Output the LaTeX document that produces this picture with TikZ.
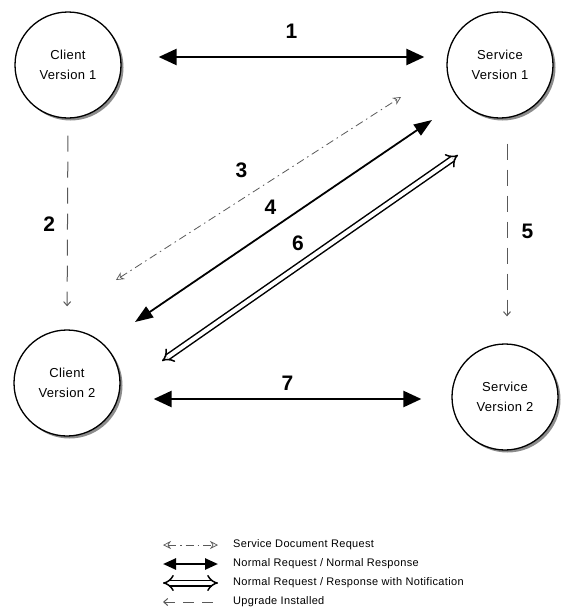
\documentclass[tikz,border=0pt]{standalone}
\usepackage{fontspec}
\setmainfont{Liberation Sans}[LetterSpace=3.0]
\usetikzlibrary{
    arrows.meta,
    shadows
}
\tikzset{
    % Colors
    line gray/.style={black!65},
    %
    % Nodes
    party/.style={circle,draw,line width=1.3pt,fill=white,minimum size=106pt,inner sep=0pt,
        align=center,font=\fontsize{13}{20}\selectfont,
        drop shadow={shadow xshift=2.5pt,shadow yshift=-2.5pt,fill=black!45,opacity=1}},
    step label/.style={inner sep=0pt,text=black,font=\fontsize{21}{21}\bfseries\selectfont},
    legend text/.style={anchor=west,inner sep=0pt,font=\fontsize{11}{13}\selectfont},
    %
    % Arrows
    big tip/.tip={Triangle[length=18pt,width=16pt]},
    mid tip/.tip={Triangle[length=18pt,width=13pt]},
    key tip/.tip={Triangle[length=13pt,width=11pt]},
    small tip/.tip={Stealth[open,length=8pt,width=8pt,line width=0.7pt]},
    tiny tip/.tip={Straight Barb[length=4pt,width=7pt]},
    call arr/.style={{big tip}-{big tip},line width=2.5pt},
    thin call arr/.style={{mid tip}-{mid tip},line width=1.8pt},
    doc arr/.style={{small tip}-{small tip},line gray,line width=0.8pt,
        dash pattern=on 8pt off 4pt on 1.5pt off 4pt},
    notify arr/.style={{Implies[scale=1.3]}-{Implies[scale=1.3]},double,line width=1.5pt,double distance=4pt},
    upgrade arr/.style={-{tiny tip},line gray,line width=1pt,dash pattern=on 16pt off 10pt},
}

\begin{document}
\begin{tikzpicture}[x=1pt,y=-1pt]
    \useasboundingbox (0,0) rectangle (564,616);
    \node[party] (Client V1) at (68,65) {Client\\Version 1};
    \node[party] (Service V1) at (500,65) {Service\\Version 1};
    \node[party] (Client V2) at (67,383) {Client\\Version 2};
    \node[party] (Service V2) at (505,397) {Service\\Version 2};

    % calls between versions
    \draw[call arr] ([xshift=37pt,yshift=8pt]Client V1.east) -- node[midway,step label,above=17pt] {1} ([xshift=-22pt,yshift=8pt]Service V1.west);
    \draw[call arr] ([xshift=33pt,yshift=-16pt]Client V2.east) -- node[midway,step label,above=7pt] {7} ([xshift=-30pt,yshift=-2pt]Service V2.west);

    % upgrades
    \draw[upgrade arr,shorten <=17pt,shorten >=23pt] (Client V1.south) -- node[midway,step label,left=12pt] {2} (Client V2.north);
    \draw[upgrade arr,shorten <=25pt,shorten >=27pt] ([xshift=7pt]Service V1.south) -- node[midway,step label,right=14pt] {5} ([xshift=2pt]Service V2.north);

    % crossed versions
    \coordinate (Doc A) at (116,280);
    \coordinate (Doc B) at (401,97);
    \coordinate (Call A) at (135,322);
    \coordinate (Call B) at (432,120);
    \coordinate (Notify A) at (162,361);
    \coordinate (Notify B) at (458,155);
    \draw[doc arr] (Doc A) -- node[midway,step label,shift={(-17,-18)}] {3} (Doc B);
    \draw[thin call arr] (Call A) -- node[midway,step label,shift={(-13,-14)}] {4} (Call B);
    \draw[notify arr] (Notify A) -- node[midway,step label,shift={(-12,-15)}] {6} (Notify B);

    % legend
    \node[legend text] (Doc Key) at (233,545) {Service Document Request};
    \node[legend text] (Call Key) at (233,564) {Normal Request / Normal Response};
    \node[legend text] (Notify Key) at (233,583) {Normal Request / Response with Notification};
    \node[legend text] (Upgrade Key) at (233,602) {Upgrade Installed};
    \draw[doc arr] ([xshift=-70pt]Doc Key.west) -- ([xshift=-15pt]Doc Key.west);
    \draw[{key tip}-{key tip},line width=2.5pt] ([xshift=-70pt]Call Key.west) -- ([xshift=-15pt]Call Key.west);
    \draw[notify arr] ([xshift=-70pt]Notify Key.west) -- ([xshift=-15pt]Notify Key.west);
    \draw[upgrade arr,{tiny tip}-,dash pattern=on 11pt off 8pt] ([xshift=-70pt]Upgrade Key.west) -- ([xshift=-15pt]Upgrade Key.west);
\end{tikzpicture}
\end{document}
